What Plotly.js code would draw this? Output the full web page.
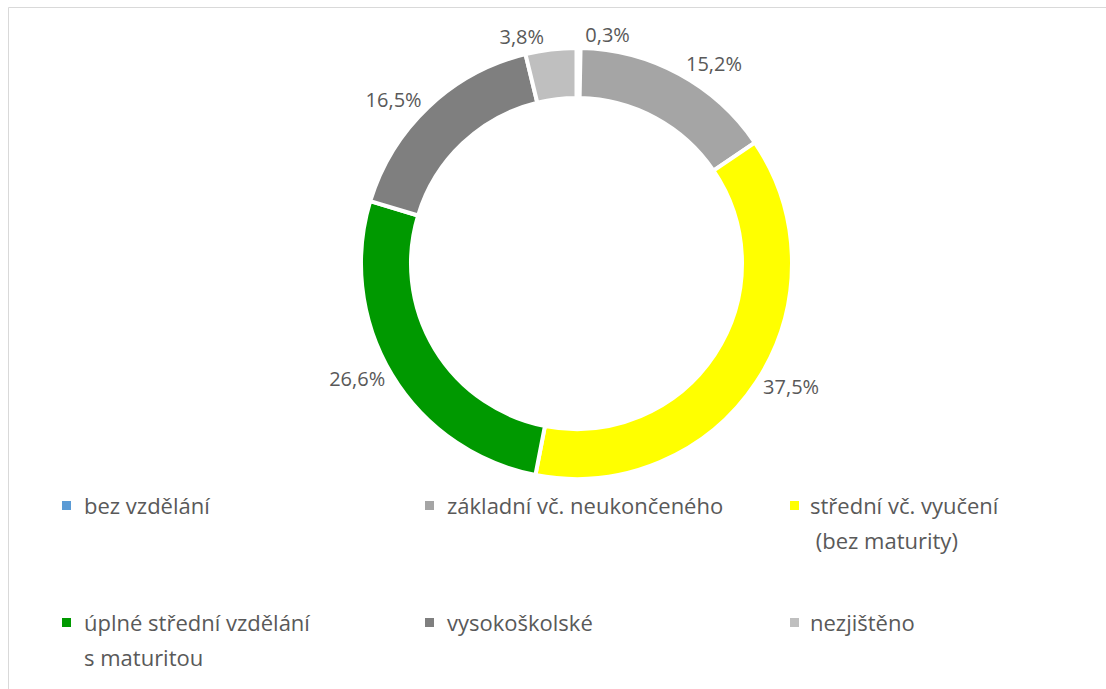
<!DOCTYPE html>
<html><head><meta charset="utf-8">
<script src="https://cdn.plot.ly/plotly-3.0.1.min.js"></script>
<style>html,body{margin:0;padding:0;background:#fff}</style>
</head><body><div id="chart" style="width:1106px;height:689px"></div>
<script>
// ---- data ----
const categories = ["bez vzdělání", "základní vč. neukončeného", "střední vč. vyučení<br>\u00a0(bez maturity)", "úplné střední vzdělání<br>s maturitou", "vysokoškolské", "nezjištěno"];
const shares = [0.3, 15.2, 37.5, 26.6, 16.5, 3.8];
const sliceColors = ["#5b9bd5", "#a5a5a5", "#ffff00", "#009900", "#7f7f7f", "#bfbfbf"];

// ---- layout helpers ----
const W = 1106, H = 689;
const px = v => v / W;
const py = v => 1 - v / H;
const FONT = "Open Sans, Liberation Sans, sans-serif";
const TXT = "#595959";

const cx = 576.5, cy = 263.5, R = 215.5;

const trace = {
  type: "pie",
  labels: categories,
  values: shares,
  sort: false,
  direction: "clockwise",
  rotation: 0,
  hole: 0.768,
  marker: {colors: sliceColors, line: {color: "#ffffff", width: 4}},
  textposition: "outside",
  texttemplate: "%{value:.1f}%",
  outsidetextfont: {family: FONT, size: 20, color: TXT},
  automargin: false,
  domain: {x: [px(cx - R), px(cx + R)], y: [py(cy + R), py(cy - R)]},
  hoverinfo: "label+percent"
};

// legend built from the category list
const colMarkX = [62, 425, 790];
const colTextX = [82, 445, 808];
const rowY = [505, 622];
const lineGap = 35;
const annotations = [];
const shapes = [
  {type: "rect", xref: "paper", yref: "paper", x0: px(8.5), x1: px(W + 5), y0: py(H + 5), y1: py(7.5),
   line: {color: "#d9d9d9", width: 1}, fillcolor: "rgba(0,0,0,0)", layer: "below"}
];
categories.forEach((lab, i) => {
  const c = i % 3, r = Math.floor(i / 3);
  const y = rowY[r];
  shapes.push({type: "rect", xref: "paper", yref: "paper",
    x0: px(colMarkX[c]), x1: px(colMarkX[c] + 9), y0: py(y + 5), y1: py(y - 4),
    fillcolor: sliceColors[i], line: {width: 0}});
  lab.split("<br>").forEach((ln, j) => {
    annotations.push({xref: "paper", yref: "paper", x: px(colTextX[c]), y: py(y + j * lineGap),
      xanchor: "left", yanchor: "middle", showarrow: false, text: ln,
      font: {family: FONT, size: 22, color: TXT}});
  });
});

const layout = {
  width: W, height: H,
  margin: {l: 0, r: 0, t: 0, b: 0},
  paper_bgcolor: "#ffffff",
  showlegend: false,
  separators: ", ",
  shapes: shapes,
  annotations: annotations
};

Plotly.newPlot("chart", [trace], layout, {displayModeBar: false, staticPlot: true});
</script>
</body></html>
